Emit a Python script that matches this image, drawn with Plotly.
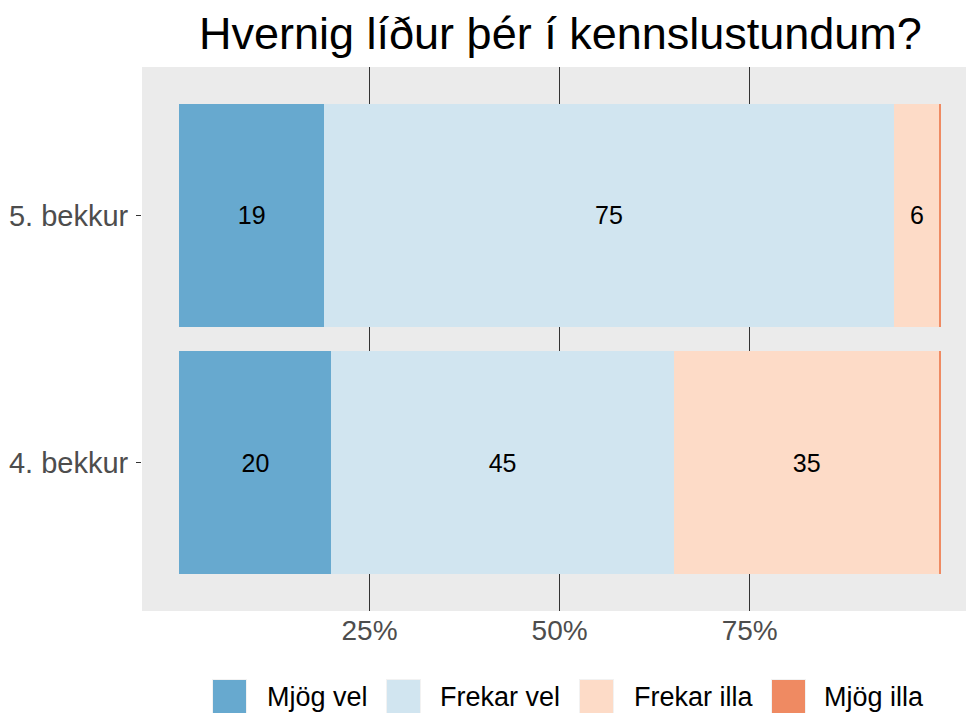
import plotly.graph_objects as go

# ---- data ----
categories = ["4. bekkur", "5. bekkur"]
series_names = ["Mjög vel", "Frekar vel", "Frekar illa", "Mjög illa"]
mjog_vel = [20, 19]
frekar_vel = [45, 75]
frekar_illa = [35, 6]
mjog_illa = [0.2, 0.2]  # visible only as a thin sliver
tick_vals = [25, 50, 75]
tick_text = ["25%", "50%", "75%"]
title_text = "Hvernig líður þér í kennslustundum?"

colors = ["#67A9CF", "#D1E5F0", "#FDDBC7", "#EF8A62"]
series_values = [mjog_vel, frekar_vel, frekar_illa, mjog_illa]
show_labels = [True, True, True, False]

FONT = "Liberation Sans, Arial, Helvetica, sans-serif"
W, H = 966, 713
ML, MR, MT, MB = 142, 0, 67, 713 - 611
PW, PH = W - ML - MR, H - MT - MB

fig = go.Figure()
for name, vals, col, lab in zip(series_names, series_values, colors, show_labels):
    fig.add_trace(go.Bar(
        y=categories, x=vals, name=name, orientation="h",
        marker=dict(color=col, line=dict(width=0)),
        text=[f"{v:g}" for v in vals] if lab else None,
        textposition="inside" if lab else "none",
        insidetextanchor="middle",
        textangle=0,
        insidetextfont=dict(family=FONT, size=25, color="black"),
        showlegend=False,
        hoverinfo="skip",
    ))

# helpers converting page pixels to paper coords
def px_x(px):
    return (px - ML) / PW

def px_y(py):
    return (H - MB - py) / PH

shapes = []
annotations = []
# manual legend (large square keys like ggplot)
legend_items = [(213, 265), (387, 438), (580, 632), (772, 822)]
for (kx, tx), name, col in zip(legend_items, series_names, colors):
    shapes.append(dict(type="rect", xref="paper", yref="paper",
                       x0=px_x(kx - 1), x1=px_x(kx + 34), y0=px_y(679), y1=px_y(716),
                       fillcolor="#F2F2F2", line=dict(width=0), layer="above"))
    shapes.append(dict(type="rect", xref="paper", yref="paper",
                       x0=px_x(kx), x1=px_x(kx + 33), y0=px_y(680), y1=px_y(715),
                       fillcolor=col, line=dict(width=0), layer="above"))
    annotations.append(dict(xref="paper", yref="paper", x=px_x(tx), y=px_y(697),
                            xanchor="left", yanchor="middle", text=name, showarrow=False,
                            font=dict(family=FONT, size=27, color="black")))

annotations.append(dict(xref="paper", yref="paper", x=px_x(560), y=px_y(33),
                        xanchor="center", yanchor="middle", text=title_text, showarrow=False,
                        font=dict(family=FONT, size=45, color="black")))

fig.update_layout(
    width=W, height=H,
    margin=dict(l=ML, r=MR, t=MT, b=MB, pad=0),
    paper_bgcolor="white", plot_bgcolor="#EBEBEB",
    barmode="stack", bargap=0.1,
    showlegend=False,
    font=dict(family=FONT),
    shapes=shapes, annotations=annotations,
    xaxis=dict(range=[-4.92, 103.45], tickvals=tick_vals, ticktext=tick_text,
               showgrid=True, gridcolor="#333333", gridwidth=1, zeroline=False,
               ticks="", showline=False,
               tickfont=dict(family=FONT, size=28, color="#4D4D4D")),
    yaxis=dict(categoryorder="array", categoryarray=categories, range=[-0.6, 1.6],
               showgrid=False, zeroline=False, showline=False,
               ticks="outside", ticklen=5, tickwidth=1, tickcolor="#333333",
               ticklabelstandoff=2,
               tickfont=dict(family=FONT, size=29, color="#4D4D4D")),
)

fig.write_html(
    "out.html",
    config={"displayModeBar": False},
    post_script=("document.body.style.margin='0';"
                 "document.body.style.overflow='hidden';"
                 "document.documentElement.style.overflow='hidden';"),
)
